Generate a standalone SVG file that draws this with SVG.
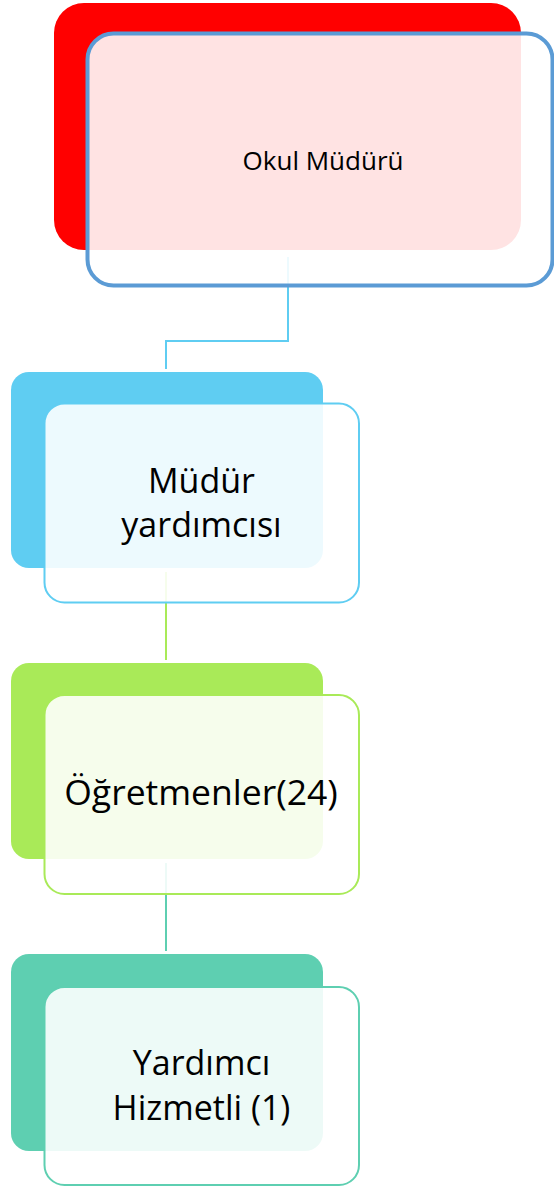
<svg xmlns="http://www.w3.org/2000/svg" width="554" height="1189" viewBox="0 0 554 1189">
<style>
.front{fill:#ffffff;fill-opacity:0.89}
.lbl{font-family:"Open Sans","Noto Sans","DejaVu Sans",sans-serif;fill:#000;text-anchor:middle}
.big{font-size:34px}
.small{font-size:26px}
.conn{fill:none;stroke-width:2}
</style>
<rect width="554" height="1189" fill="#ffffff"/>
<g id="connectors">
<path class="conn" d="M288,257 V341 H166 V369" stroke="#5FCDF2"/>
<path class="conn" d="M166,572 V660" stroke="#A9EA58"/>
<path class="conn" d="M166,863 V951" stroke="#5ECFB1"/>
</g>
<g id="node-okul-muduru">
<rect x="54" y="3" width="467" height="247" rx="30" fill="#FF0000"/>
<rect class="front" x="87.5" y="33.5" width="465" height="252" rx="26" stroke="#5B9BD5" stroke-width="4"/>
<text class="lbl small" x="323" y="170">Okul Müdürü</text>
</g>
<g id="node-mudur-yardimcisi">
<rect x="11" y="372" width="312" height="196" rx="18" fill="#5FCDF2"/>
<rect class="front" x="44.5" y="403.5" width="314.5" height="199" rx="20" stroke="#5FCDF2" stroke-width="2"/>
<text class="lbl big" x="201.5" y="493">Müdür</text>
<text class="lbl big" x="201.5" y="537">yardımcısı</text>
</g>
<g id="node-ogretmenler">
<rect x="11" y="663" width="312" height="196" rx="18" fill="#A9EA58"/>
<rect class="front" x="44.5" y="695" width="314.5" height="199" rx="20" stroke="#A9EA58" stroke-width="2"/>
<text class="lbl" x="201" y="805" font-size="35.5">Öğretmenler(24)</text>
</g>
<g id="node-yardimci-hizmetli">
<rect x="11" y="954" width="312" height="197" rx="18" fill="#5ECFB1"/>
<rect class="front" x="44.5" y="987" width="314.5" height="198" rx="20" stroke="#5ECFB1" stroke-width="2"/>
<text class="lbl big" x="201.5" y="1075">Yardımcı</text>
<text class="lbl big" x="201.5" y="1120">Hizmetli (1)</text>
</g>
</svg>
